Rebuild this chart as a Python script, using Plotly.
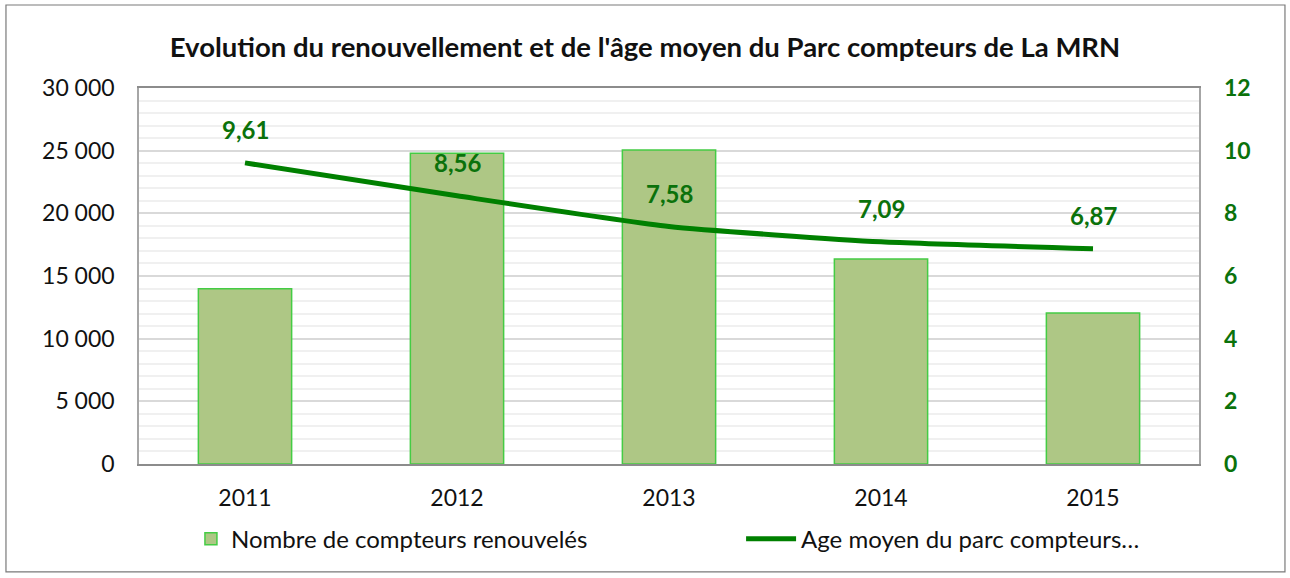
import plotly.graph_objects as go

years = ["2011", "2012", "2013", "2014", "2015"]
compteurs_renouveles = [13980, 24800, 25050, 16350, 12050]
age_moyen = [9.61, 8.56, 7.58, 7.09, 6.87]
age_labels = ["9,61", "8,56", "7,58", "7,09", "6,87"]

left_ticks = [0, 5000, 10000, 15000, 20000, 25000, 30000]
left_ticktext = ["0", "5 000", "10 000", "15 000", "20 000", "25 000", "30 000"]

FONT = "Lato, 'Open Sans', sans-serif"
GREEN = "#008000"
LABEL_GREEN = "#0B720B"

fig = go.Figure()

fig.add_trace(go.Bar(
    x=years,
    y=compteurs_renouveles,
    name="Nombre de compteurs renouvelés",
    marker=dict(color="#AEC785", line=dict(color="#44CC44", width=1.5)),
    width=0.44,
    yaxis="y",
    legend="legend",
    showlegend=True,
))

fig.add_trace(go.Scatter(
    x=years,
    y=age_moyen,
    name="Age moyen du parc compteurs…",
    mode="lines",
    line=dict(color=GREEN, width=5, shape="spline", smoothing=0.5),
    yaxis="y2",
    legend="legend2",
    showlegend=True,
))

# data labels above each point of the line (x given as category index)
for i, (v, lbl) in enumerate(zip(age_moyen, age_labels)):
    fig.add_annotation(
        x=i, y=v, xref="x", yref="y2", text=lbl, showarrow=False,
        yshift=33, font=dict(family=FONT, size=24, color=LABEL_GREEN, weight="bold"),
    )

# outer chart border
fig.add_shape(type="rect", xref="paper", yref="paper",
              x0=-0.1255, x1=1.0811, y0=-0.287, y1=1.2207,
              line=dict(color="#7a7a7a", width=1.2), layer="below")

legend_style = dict(
    orientation="h", yanchor="middle", y=-0.2, xanchor="left",
    bgcolor="rgba(0,0,0,0)", font=dict(family=FONT, size=24, color="#111111"),
)

fig.update_layout(
    width=1290,
    height=578,
    showlegend=True,
    margin=dict(l=139, r=91, t=88, b=114, autoexpand=False),
    paper_bgcolor="white",
    plot_bgcolor="white",
    font=dict(family=FONT, size=23, color="#111111"),
    title=dict(
        text="Evolution du renouvellement et de l'âge moyen du Parc compteurs de La MRN",
        x=0.5, xanchor="center", y=0.918, yanchor="middle",
        font=dict(family=FONT, size=27.5, color="#111111", weight="bold"),
    ),
    xaxis=dict(
        type="category", range=[-0.5, 4.5],
        showline=True, linecolor="#8c8c8c", linewidth=1.5, mirror=True,
        ticks="", ticklabelstandoff=13, showgrid=False,
    ),
    yaxis=dict(
        range=[0, 30000], tickvals=left_ticks, ticktext=left_ticktext,
        showline=True, linecolor="#a6a6a6", linewidth=1.5, mirror=True,
        gridcolor="#d9d9d9", gridwidth=2, zeroline=False,
        ticklabelstandoff=18,
        minor=dict(dtick=1000, showgrid=True, gridcolor="#f0f0f0", gridwidth=2),
    ),
    yaxis2=dict(
        range=[0, 12], dtick=2, overlaying="y", side="right",
        showgrid=False, zeroline=False, ticklabelstandoff=24,
        tickfont=dict(family=FONT, size=23, color=LABEL_GREEN, weight="bold"),
    ),
    legend=dict(legend_style, x=0.049),
    legend2=dict(legend_style, x=0.568, itemwidth=50),
)

fig.write_html("out.html", config={"displayModeBar": False},
               post_script="document.body.style.margin='0';")
